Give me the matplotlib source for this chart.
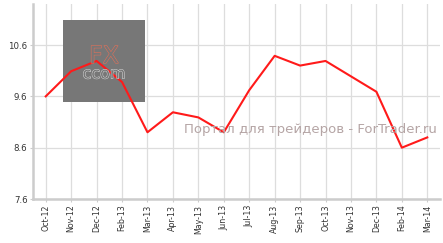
import numpy as np
import matplotlib.pyplot as plt
import matplotlib.patheffects as pe
from matplotlib.patches import Rectangle

months = ['Oct-12', 'Nov-12', 'Dec-12', 'Feb-13', 'Mar-13', 'Apr-13', 'May-13', 'Jun-13',
          'Jul-13', 'Aug-13', 'Sep-13', 'Oct-13', 'Nov-13', 'Dec-13', 'Feb-14', 'Mar-14']
values = [9.60, 10.09, 10.29, 9.88, 8.90, 9.29, 9.19, 8.90,
          9.72, 10.39, 10.20, 10.29, 9.99, 9.69, 8.60, 8.80]
yticks = [7.6, 8.6, 9.6, 10.6]

fig = plt.figure(figsize=(4.43, 2.43), dpi=100)
ax = fig.add_axes([33/443, 44/243, 407/443, 195/243])

x = np.arange(len(months))
ax.plot(x, values, color='#ff1a1a', lw=1.5, zorder=3)

ax.set_xlim(-0.5, 15.5)
ax.set_ylim(7.6, 11.4)
ax.set_xticks(x)
ax.set_xticklabels(months, rotation=90, fontsize=5.7, color='#333333')
ax.set_yticks(yticks)
ax.set_yticklabels([f'{v:.1f}' for v in yticks], fontsize=6.2, color='#333333')
ax.grid(True, color='#dddddd', lw=0.9, zorder=0)
ax.set_axisbelow(True)
for s in ['top', 'right']:
    ax.spines[s].set_visible(False)
for s in ['left', 'bottom']:
    ax.spines[s].set_color('#cccccc')
    ax.spines[s].set_linewidth(1.8)
ax.tick_params(length=2, color='#cccccc', pad=2)

# logo watermark
ax.add_patch(Rectangle((63/443, 141/243), 82/443, 82/243, transform=fig.transFigure,
                       facecolor='#777777', edgecolor='none', zorder=2))
t = fig.text(104/443, 187/243, 'FX', fontsize=17, color='#777777', ha='center', va='center',
             zorder=4)
t.set_path_effects([pe.Stroke(linewidth=0.8, foreground='#e0705a'), pe.Normal()])
t2 = fig.text(104/443, 169/243, 'ccom', fontsize=11.5, color='#777777', ha='center', va='center',
              zorder=4)
t2.set_path_effects([pe.Stroke(linewidth=0.7, foreground='#d8d8d8'), pe.Normal()])

fig.text(310/443, 113/243, 'Портал для трейдеров - ForTrader.ru', fontsize=9.5,
         color='#b5a5a5', ha='center', va='center', zorder=5)

fig.savefig('out.png', dpi=100)
